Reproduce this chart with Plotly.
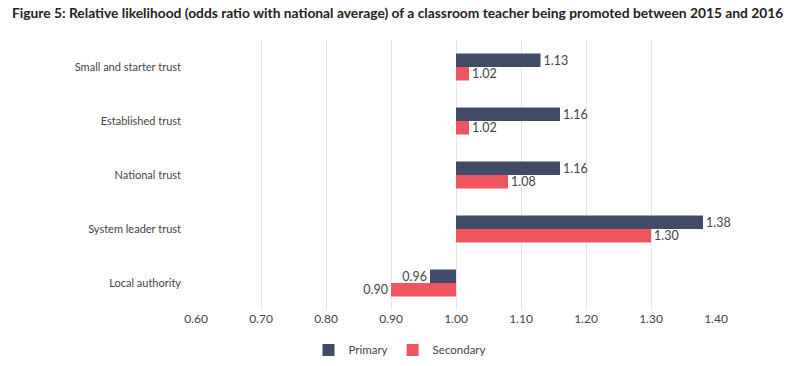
import plotly.graph_objects as go

categories = ["Small and starter trust", "Established trust", "National trust",
              "System leader trust", "Local authority"]
primary = [1.13, 1.16, 1.16, 1.38, 0.96]
secondary = [1.02, 1.02, 1.08, 1.30, 0.90]
baseline = 1.0
tick_vals = [0.6, 0.7, 0.8, 0.9, 1.0, 1.1, 1.2, 1.3, 1.4]
tick_text = ["0.60", "0.70", "0.80", "0.90", "1.00", "1.10", "1.20", "1.30", "1.40"]

fig = go.Figure()
for name, vals, color in [("Primary", primary, "#414b67"), ("Secondary", secondary, "#f0545f")]:
    fig.add_trace(go.Bar(
        name=name, orientation="h", y=categories,
        x=[v - baseline for v in vals], base=baseline,
        marker=dict(color=color, line=dict(width=0)),
        text=[f"{v:.2f}" for v in vals], textposition="outside",
        constraintext="none",
        textfont=dict(size=12.5, color="#444444"), cliponaxis=False,
        hovertemplate="%{y}: %{text}<extra>" + name + "</extra>",
    ))

fig.update_layout(
    width=800, height=366,
    margin=dict(l=196, r=84, t=40, b=56, autoexpand=False),
    paper_bgcolor="white", plot_bgcolor="white",
    font=dict(family="Lato, sans-serif", color="#444444", size=12),
    title=dict(text="<b>Figure 5: Relative likelihood (odds ratio with national average) of a classroom teacher being promoted between 2015 and 2016</b>",
               x=0.015, xanchor="left", y=0.965, yanchor="middle",
               font=dict(size=13.8, color="#222222", family="Lato, sans-serif")),
    barmode="group", bargap=0.5, bargroupgap=0,
    xaxis=dict(range=[0.6, 1.4], tickvals=tick_vals, ticktext=tick_text,
               showgrid=True, gridcolor="#e5e5e5", gridwidth=1, zeroline=False,
               showline=False, ticks="", automargin=False,
               tickfont=dict(size=12, color="#444444")),
    yaxis=dict(autorange="reversed", showgrid=False, zeroline=False, showline=False,
               ticks="", ticklabelstandoff=14, automargin=False,
               tickfont=dict(size=11, color="#444444")),
    legend=dict(orientation="h", xref="container", x=0.5, xanchor="center",
                y=-0.148, yanchor="middle",
                font=dict(size=11.5, color="#444444"), itemwidth=30,
                traceorder="normal"),
)

fig.write_html("out.html", config={"displayModeBar": False},
               post_script="document.body.style.margin='0';")
